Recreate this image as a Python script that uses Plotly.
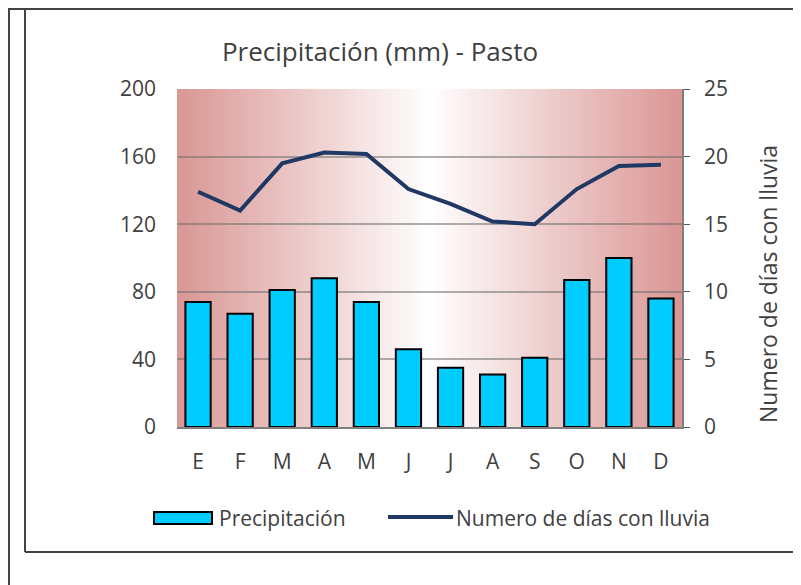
import plotly.graph_objects as go

months = ["E", "F", "M", "A", "M", "J", "J", "A", "S", "O", "N", "D"]
precipitacion = [74, 67, 81, 88, 74, 46, 35, 31, 41, 87, 100, 76]
dias_lluvia = [17.4, 16.0, 19.5, 20.3, 20.2, 17.6, 16.5, 15.2, 15.0, 17.6, 19.3, 19.4]

OFF = 8  # page body margin
W, H = 801 - OFF, 585 - OFF
L, R, T, B = 177, 682, 89, 427  # plot area in page px


def px(x):
    return (x - L) / (R - L)


def py(y):
    return (B - y) / (B - T)


FONT = "Open Sans"
TXT = "#404040"
FS = 21
xs = list(range(len(months)))

fig = go.Figure()
fig.add_trace(go.Bar(
    x=xs, y=precipitacion, name="Precipitación",
    marker=dict(color="#00CCFF", line=dict(color="#000000", width=2)),
    width=0.6, yaxis="y", showlegend=False,
))
fig.add_trace(go.Scatter(
    x=xs, y=dias_lluvia, name="Numero de días con lluvia", mode="lines",
    line=dict(color="#1F3864", width=4), yaxis="y2", showlegend=False,
))

shapes = []
# gradient background of plot area
N = 120
edge = (217, 150, 148)
for i in range(N):
    t0, t1 = i / N, (i + 1) / N
    tm = (t0 + t1) / 2
    f = abs(tm - 0.5) * 2
    c = tuple(round(255 + (e - 255) * f) for e in edge)
    shapes.append(dict(type="rect", xref="paper", yref="paper", x0=t0, x1=t1 + 0.002,
                       y0=0, y1=1, line=dict(width=0), fillcolor="rgb(%d,%d,%d)" % c,
                       layer="below"))

frame = "#444444"
# frame lines
shapes += [
    dict(type="line", xref="paper", yref="paper", x0=px(9), x1=px(9), y0=py(9), y1=py(590),
         line=dict(color=frame, width=2)),
    dict(type="line", xref="paper", yref="paper", x0=px(25), x1=px(25), y0=py(9), y1=py(552),
         line=dict(color=frame, width=2)),
    dict(type="line", xref="paper", yref="paper", x0=px(8), x1=px(805), y0=py(9), y1=py(9),
         line=dict(color=frame, width=2)),
    dict(type="line", xref="paper", yref="paper", x0=px(25), x1=px(805), y0=py(552), y1=py(552),
         line=dict(color=frame, width=2)),
]
# custom legend
shapes += [
    dict(type="rect", xref="paper", yref="paper", x0=px(154), x1=px(212), y0=py(512), y1=py(524),
         fillcolor="#00CCFF", line=dict(color="#000000", width=2)),
    dict(type="line", xref="paper", yref="paper", x0=px(388), x1=px(453), y0=py(517), y1=py(517),
         line=dict(color="#1F3864", width=4)),
]

annotations = [
    dict(text="Numero de días con lluvia", xref="paper", yref="paper", x=px(768), y=py(284),
         textangle=-90, showarrow=False, font=dict(family=FONT, size=23, color=TXT),
         xanchor="center", yanchor="middle"),
    dict(text="Precipitación", xref="paper", yref="paper", x=px(217), y=py(518),
         showarrow=False, font=dict(family=FONT, size=FS, color=TXT), xanchor="left", yanchor="middle"),
    dict(text="Numero de días con lluvia", xref="paper", yref="paper", x=px(454), y=py(518),
         showarrow=False, font=dict(family=FONT, size=FS, color=TXT), xanchor="left", yanchor="middle"),
]

fig.update_layout(
    width=W, height=H,
    margin=dict(l=L - OFF, r=801 - R, t=T - OFF, b=585 - B, pad=0),
    paper_bgcolor="white", plot_bgcolor="rgba(0,0,0,0)",
    title=dict(text="Precipitación (mm) - Pasto", x=px(380), xref="paper", xanchor="center",
               y=1 - (52 - OFF) / H, yanchor="middle", font=dict(family=FONT, size=26, color=TXT)),
    xaxis=dict(tickmode="array", tickvals=xs, ticktext=months, range=[-0.5, 11.5],
               showline=True, linecolor="#7f7f7f", linewidth=1.5, showgrid=False,
               ticks="", tickfont=dict(family=FONT, size=FS, color=TXT), ticklabelstandoff=15),
    yaxis=dict(range=[0, 200], tickvals=[0, 40, 80, 120, 160, 200], showgrid=True,
               gridcolor="rgba(110,110,110,0.55)", gridwidth=1.5, showline=False, zeroline=False,
               tickfont=dict(family=FONT, size=FS, color=TXT), ticklabelstandoff=20),
    yaxis2=dict(range=[0, 25], tickvals=[0, 5, 10, 15, 20, 25], overlaying="y", side="right",
                showgrid=False, showline=True, linecolor="#7f7f7f", linewidth=1.5, zeroline=False,
                ticks="outside", ticklen=6, tickcolor="#555555",
                tickfont=dict(family=FONT, size=FS, color=TXT), ticklabelstandoff=10),
    shapes=shapes, annotations=annotations, showlegend=False,
)

fig.write_html("out.html")
